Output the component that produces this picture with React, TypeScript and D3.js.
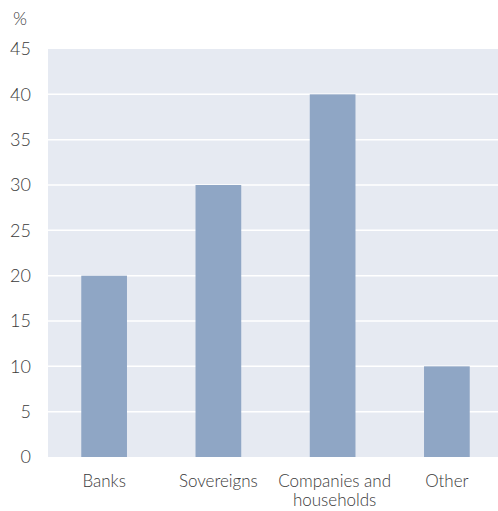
import React from "react";
import * as d3 from "d3";

const categories = ["Banks", "Sovereigns", "Companies and households", "Other"];
const categoryLines = [["Banks"], ["Sovereigns"], ["Companies and", "households"], ["Other"]];
const values = [20, 30, 40, 10];
const yTicks = [0, 5, 10, 15, 20, 25, 30, 35, 40, 45];

export default function App() {
  const W = 498, H = 511;
  const left = 48, top = 49, bottom = 457;
  const x = d3.scaleBand<string>().domain(categories).range([left - 1, 504]).paddingInner(0.6).paddingOuter(0.3);
  const y = d3.scaleLinear().domain([0, 45]).range([bottom, top]);
  const font = "Lato, 'Open Sans', sans-serif";
  return (
    <svg width={W} height={H} style={{ position: "absolute", left: 0, top: 0 }}>
      <rect x={left} y={top} width={W - left} height={bottom - top} fill="#e6eaf2" />
      {yTicks.filter(t => t > 0 && t < 45).map(t => (
        <line key={t} x1={left} x2={W} y1={y(t)} y2={y(t)} stroke="#fff" strokeWidth={1.5} />
      ))}
      {values.map((v, i) => (
        <rect key={i} x={x(categories[i])} y={y(v)} width={x.bandwidth()} height={y(0) - y(v)} fill="#8fa6c5" />
      ))}
      {yTicks.map(t => (
        <text key={t} x={31} y={y(t)} dy="0.36em" textAnchor="end" fontFamily={font} fontWeight={300} fontSize={18} fill="#3a3a3a">{t}</text>
      ))}
      <text x={13} y={25} fontFamily={font} fontWeight={300} fontSize={18} fill="#3a3a3a">%</text>
      {categoryLines.map((lines, i) => (
        <text key={i} textAnchor="middle" fontFamily={font} fontWeight={300} fontSize={17} fill="#3a3a3a">
          {lines.map((l, j) => (
            <tspan key={j} x={x(categories[i])! + x.bandwidth() / 2 + (i === 2 ? 2 : 0)} y={487 + j * 19}>{l}</tspan>
          ))}
        </text>
      ))}
    </svg>
  );
}
